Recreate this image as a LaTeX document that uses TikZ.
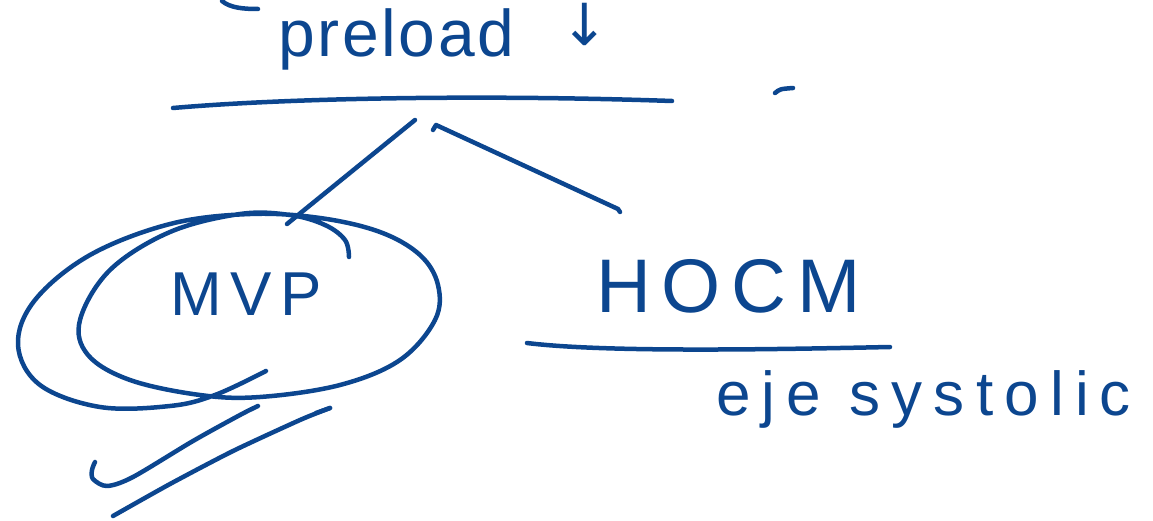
\documentclass[tikz,border=0pt]{standalone}
\usepackage{fontspec}
\setmainfont{Liberation Sans}
\newfontfamily\handfont[LetterSpace=18]{Liberation Sans}
\newfontfamily\wideA[LetterSpace=4]{Liberation Sans}
\newfontfamily\wideB[LetterSpace=14]{Liberation Sans}
\newfontfamily\symfont{DejaVu Sans}
\definecolor{ink}{RGB}{12,70,143}
\begin{document}
\begin{tikzpicture}[x=1pt,y=1pt,
  pen/.style={draw=ink,line width=4.5pt,line cap=round,line join=round},
  txt/.style={text=ink,inner sep=0pt,anchor=base west}]
\useasboundingbox (0,0) rectangle (1153,-521);
% text
\node[txt,font=\wideA\fontsize{66}{66}\selectfont] (preload) at (278,-57) {preload};
\node[txt,font=\symfont\fontsize{58}{58}\selectfont] (down) at (560,-46) {↓};
\node[txt,font=\wideB\fontsize{62}{62}\selectfont] (mvp) at (170,-315) {MVP};
\node[txt,font=\wideB\fontsize{76}{76}\selectfont] (hocm) at (596,-312) {HOCM};
\node[txt,font=\handfont\fontsize{62}{62}\selectfont] (ejs) at (716,-415) {eje systolic};
% marks
\draw[pen] (222,-1) .. controls (230,-8) and (244,-9) .. (258,-9);
\draw[pen] (173,-108) .. controls (300,-97) and (500,-95) .. (672,-101);
\draw[pen] (775,-93) .. controls (780,-89) .. (793,-88);
% branches
\coordinate (bl) at (415,-120);
\coordinate (br) at (436,-125);
\coordinate (el) at (287,-224);
\coordinate (er) at (618,-209);
\draw[pen] (bl) -- (el);
\draw[pen] (433,-130) -- (br) -- (er) -- (620,-212);
% spiral ellipse round MVP
\draw[pen] plot[smooth,tension=0.6] coordinates {
 (349,-257) (345,-240) (325,-225) (290,-215) (240,-214) (170,-232) (110,-270)
 (80,-320) (88,-355) (130,-380) (200,-395) (260,-397) (340,-385) (400,-360)
 (435,-320) (438,-285) (420,-255) (380,-232) (320,-218) (250,-214) (170,-224)
 (90,-255) (35,-300) (18,-345) (40,-385) (100,-407) (170,-406) (215,-395) (266,-371)};
% strokes below
\draw[pen] plot[smooth,tension=0.5] coordinates {
 (258,-406) (240,-415) (193,-441) (133,-477) (107,-486) (93,-479) (92,-470) (95,-462)};
\draw[pen] plot[smooth,tension=0.4] coordinates {
 (113,-516) (170,-484) (233,-451) (300,-420) (330,-408)};
\draw[pen] (330,-408) -- (316,-413);
% HOCM underline
\draw[pen] (527,-343) .. controls (600,-352) and (750,-350) .. (890,-347);
\end{tikzpicture}
\end{document}
